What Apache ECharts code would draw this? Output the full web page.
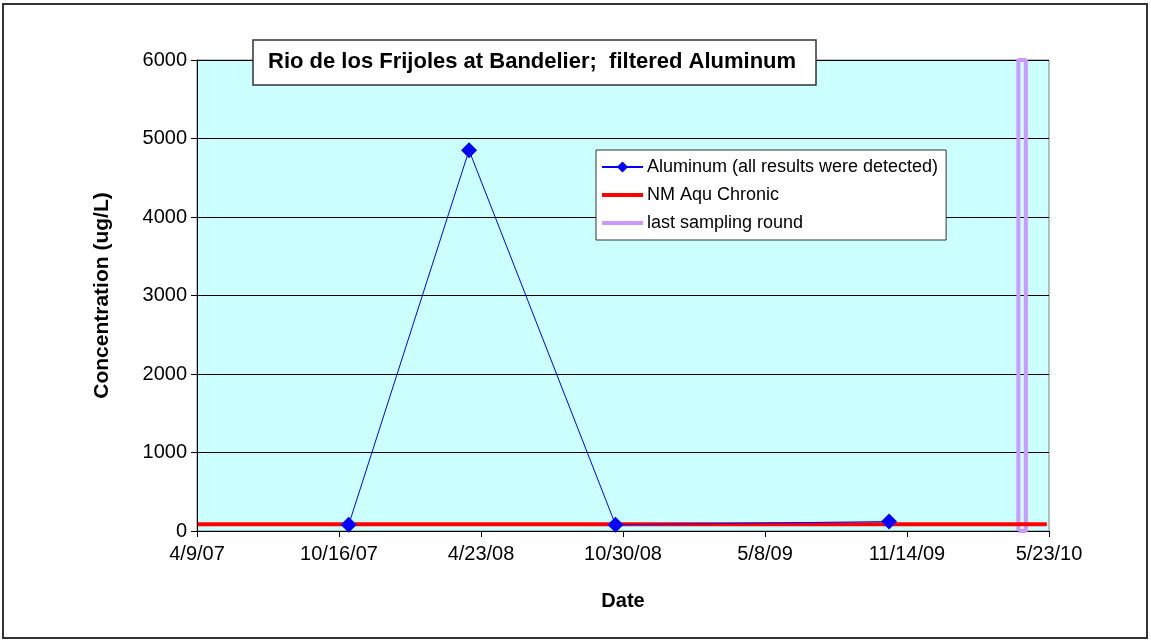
<!DOCTYPE html>
<html>
<head>
<meta charset="utf-8">
<script src="https://cdn.jsdelivr.net/npm/echarts@6/dist/echarts.min.js"></script>
<style>
  html, body { margin: 0; padding: 0; background: #fff; }
  #chart { width: 1151px; height: 641px; }
</style>
</head>
<body>
<div id="chart"></div>
<script>
// axis runs from 4/9/07 in steps of 190 days
var axisStart = '2007-04-09';
var stepDays = 190;
var stepCount = 6;

var alDates = ['2007-10-29', '2008-04-07', '2008-10-20', '2009-10-21'];
var alValues = [80, 4850, 80, 120];

var stdDates = ['2007-04-10', '2010-05-20'];
var stdValues = [87, 87];

var lastDates = ['2010-04-12', '2010-04-12', '2010-04-22', '2010-04-22', '2010-04-12'];
var lastValues = [0, 6000, 6000, 0, 0];

var yTicks = [0, 1000, 2000, 3000, 4000, 5000, 6000];

function toUTC(s) {
  var p = s.split('-');
  return Date.UTC(+p[0], +p[1] - 1, +p[2]);
}
var t0 = toUTC(axisStart);
function dayOf(s) { return Math.round((toUTC(s) - t0) / 86400000); }
function pairs(dates, vals) {
  return dates.map(function (d, i) { return [dayOf(d), vals[i]]; });
}
function fmtDay(v) {
  var d = new Date(t0 + v * 86400000);
  var yy = String(d.getUTCFullYear() % 100);
  if (yy.length < 2) yy = '0' + yy;
  return (d.getUTCMonth() + 1) + '/' + d.getUTCDate() + '/' + yy;
}

var chart = echarts.init(document.getElementById('chart'));
var font = 'Arial, "Liberation Sans", sans-serif';
var barIcon = 'path://M0,0L40,0L40,4L0,4Z';

var option = {
  animation: false,
  textStyle: { fontFamily: font },
  graphic: [{
    type: 'rect',
    shape: { x: 3, y: 4, width: 1144, height: 634 },
    style: { fill: 'none', stroke: '#333', lineWidth: 2 },
    z: -1
  }],
  title: {
    text: 'Rio de los Frijoles at Bandelier;  filtered Aluminum',
    left: 253,
    top: 40,
    padding: [11, 20, 12, 15],
    backgroundColor: '#fff',
    borderColor: '#333',
    borderWidth: 1.5,
    textStyle: { fontSize: 22, fontWeight: 'bold', color: '#000', fontFamily: font }
  },
  legend: {
    orient: 'vertical',
    left: 596,
    top: 150,
    padding: [8, 8, 8, 5],
    itemGap: 10,
    itemWidth: 41,
    itemHeight: 14,
    backgroundColor: '#fff',
    borderColor: '#333',
    borderWidth: 1,
    textStyle: { fontSize: 18, color: '#000', fontFamily: font, padding: [0, 0, 0, -1] },
    data: [
      { name: 'Aluminum (all results were detected)' },
      { name: 'NM Aqu Chronic', icon: barIcon },
      { name: 'last sampling round', icon: barIcon }
    ]
  },
  grid: {
    left: 197,
    right: 102,
    top: 60,
    bottom: 110,
    show: true,
    backgroundColor: '#CCFFFF',
    borderColor: '#808080',
    borderWidth: 1
  },
  xAxis: {
    type: 'value',
    min: 0,
    max: stepDays * stepCount,
    interval: stepDays,
    name: 'Date',
    nameLocation: 'middle',
    nameGap: 60,
    nameTextStyle: { fontSize: 20, fontWeight: 'bold', color: '#000' },
    axisLine: { show: true, lineStyle: { color: '#000' } },
    axisTick: { show: true, length: 6, lineStyle: { color: '#000' } },
    axisLabel: { fontSize: 20, color: '#000', margin: 13, formatter: fmtDay },
    splitLine: { show: false }
  },
  yAxis: {
    type: 'value',
    min: yTicks[0],
    max: yTicks[yTicks.length - 1],
    interval: yTicks[1] - yTicks[0],
    name: 'Concentration (ug/L)',
    nameLocation: 'middle',
    nameGap: 84,
    nameTextStyle: { fontSize: 21, fontWeight: 'bold', color: '#000' },
    axisLine: { show: true, lineStyle: { color: '#000' } },
    axisTick: { show: true, length: 6, lineStyle: { color: '#000' } },
    axisLabel: { fontSize: 20, color: '#000', margin: 10, formatter: function (v) { return String(v); } },
    splitLine: { show: true, lineStyle: { color: '#000', width: 1 } }
  },
  series: [{
    name: 'Aluminum (all results were detected)',
    type: 'line',
    data: pairs(alDates, alValues),
    symbol: 'diamond',
    symbolSize: 16,
    lineStyle: { color: '#0000FF', width: 1 },
    itemStyle: { color: '#0000FF' },
    z: 4
  }, {
    name: 'NM Aqu Chronic',
    type: 'line',
    data: pairs(stdDates, stdValues),
    symbol: 'none',
    lineStyle: { color: '#FF0000', width: 4 },
    itemStyle: { color: '#FF0000' },
    z: 3
  }, {
    name: 'last sampling round',
    type: 'line',
    data: pairs(lastDates, lastValues),
    symbol: 'none',
    lineStyle: { color: '#CC99FF', width: 4 },
    itemStyle: { color: '#CC99FF' },
    z: 2
  }]
};

chart.setOption(option);
</script>
</body>
</html>
